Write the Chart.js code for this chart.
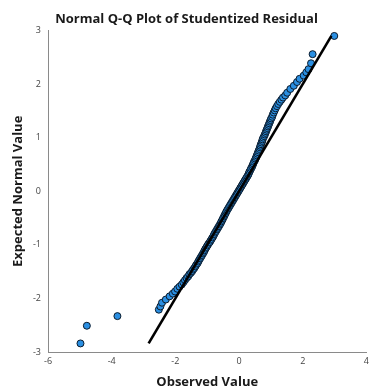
<!DOCTYPE html>
<html>
<head>
<meta charset="utf-8">
<title>Normal Q-Q Plot of Studentized Residual</title>
<script src="https://cdn.jsdelivr.net/npm/chart.js@4.4.1/dist/chart.umd.min.js"></script>
<style>
  html, body { margin: 0; padding: 0; background: #ffffff; }
</style>
</head>
<body>
<canvas id="qq" width="373" height="390"></canvas>
<script>
// Observed studentized residuals (x) and their expected normal values (y)
const observed = [
  -4.98, -4.78, -3.82, -2.52, -2.47, -2.42, -2.30, -2.18, -2.08, -2.01,
  -1.94, -1.87, -1.80, -1.75, -1.70, -1.65, -1.60, -1.56, -1.51, -1.47,
  -1.44, -1.40, -1.37, -1.34, -1.30, -1.28, -1.25, -1.22, -1.19, -1.16,
  -1.13, -1.10, -1.08, -1.05, -1.02, -0.99, -0.96, -0.92, -0.89, -0.86,
  -0.83, -0.80, -0.78, -0.75, -0.72, -0.69, -0.66, -0.63, -0.60, -0.57,
  -0.55, -0.52, -0.50, -0.47, -0.45, -0.42, -0.40, -0.37, -0.34, -0.31,
  -0.28, -0.25, -0.22, -0.19, -0.16, -0.13, -0.10, -0.07, -0.04, -0.01,
   0.02,  0.05,  0.08,  0.11,  0.14,  0.17,  0.20,  0.23,  0.26,  0.29,
   0.31,  0.33,  0.36,  0.38,  0.41,  0.43,  0.45,  0.47,  0.50,  0.52,
   0.54,  0.56,  0.58,  0.60,  0.62,  0.64,  0.66,  0.67,  0.69,  0.71,
   0.73,  0.74,  0.76,  0.79,  0.81,  0.83,  0.85,  0.87,  0.89,  0.91,
   0.93,  0.95,  0.97,  0.99,  1.01,  1.04,  1.06,  1.09,  1.12,  1.15,
   1.19,  1.23,  1.28,  1.33,  1.38,  1.45,  1.51,  1.61,  1.72,  1.82,
   1.90,  2.03,  2.11,  2.18,  2.26,  2.31,  2.99
];
const expected = [
  -2.84, -2.51, -2.33, -2.21, -2.15, -2.08, -2.02, -1.96, -1.91, -1.87,
  -1.82, -1.78, -1.74, -1.70, -1.66, -1.62, -1.59, -1.55, -1.52, -1.49,
  -1.46, -1.43, -1.40, -1.37, -1.34, -1.31, -1.28, -1.25, -1.22, -1.19,
  -1.16, -1.13, -1.10, -1.07, -1.04, -1.01, -0.98, -0.95, -0.92, -0.89,
  -0.86, -0.83, -0.80, -0.77, -0.74, -0.71, -0.68, -0.65, -0.62, -0.59,
  -0.56, -0.53, -0.50, -0.47, -0.44, -0.41, -0.38, -0.35, -0.32, -0.29,
  -0.26, -0.23, -0.20, -0.17, -0.14, -0.11, -0.08, -0.05, -0.02,  0.01,
   0.04,  0.07,  0.10,  0.13,  0.16,  0.19,  0.22,  0.25,  0.28,  0.31,
   0.34,  0.37,  0.40,  0.43,  0.46,  0.49,  0.52,  0.55,  0.58,  0.61,
   0.64,  0.67,  0.70,  0.73,  0.76,  0.79,  0.82,  0.85,  0.88,  0.91,
   0.94,  0.97,  1.00,  1.03,  1.06,  1.09,  1.12,  1.15,  1.18,  1.21,
   1.24,  1.27,  1.30,  1.33,  1.36,  1.39,  1.43,  1.47,  1.51,  1.55,
   1.59,  1.63,  1.67,  1.71,  1.75,  1.79,  1.84,  1.91,  1.97,  2.04,
   2.10,  2.16,  2.22,  2.28,  2.39,  2.56,  2.90
];

// Reference line (expected = observed)
const refLineX = [-2.84, 2.90];
const refLineY = [-2.84, 2.90];

// Tick labels
const xTicks = [-6, -4, -2, 0, 2, 4];
const yTicks = [-3, -2, -1, 0, 1, 2, 3];

const points = observed.map((x, i) => ({ x: x, y: expected[i] }));
const refLine = refLineX.map((x, i) => ({ x: x, y: refLineY[i] }));

const tickFont = { family: 'Open Sans', size: 9 };
const titleFont = { family: 'Open Sans', size: 13, weight: 'bold' };

new Chart(document.getElementById('qq'), {
  type: 'scatter',
  data: {
    datasets: [
      {
        type: 'line',
        data: refLine,
        borderColor: '#000000',
        borderWidth: 2.6,
        pointRadius: 0,
        fill: false,
        order: 0
      },
      {
        data: points,
        backgroundColor: '#2a8fe2',
        borderColor: '#0b1b2c',
        borderWidth: 1,
        pointRadius: 3.5,
        order: 1
      }
    ]
  },
  options: {
    responsive: false,
    animation: false,
    devicePixelRatio: 1,
    layout: { padding: { left: 0, right: 0, top: 0, bottom: 0 } },
    plugins: {
      legend: { display: false },
      tooltip: { enabled: false },
      title: {
        display: true,
        text: 'Normal Q-Q Plot of Studentized Residual',
        color: '#1a1a1a',
        font: titleFont,
        padding: { top: 11, bottom: 4 }
      }
    },
    scales: {
      x: {
        type: 'linear',
        min: -6,
        max: 4,
        afterBuildTicks: s => { s.ticks = xTicks.map(v => ({ value: v })); },
        afterFit: s => { s.height = 38; },
        grid: { display: false, drawTicks: false },
        border: { display: true, color: '#8a8a8a', width: 1 },
        ticks: { font: tickFont, color: '#444444', padding: 4, maxRotation: 0 },
        title: { display: true, text: 'Observed Value', color: '#1a1a1a', font: titleFont, padding: { top: 0, bottom: 0 } }
      },
      y: {
        type: 'linear',
        min: -3,
        max: 3,
        afterBuildTicks: s => { s.ticks = yTicks.map(v => ({ value: v })); },
        afterFit: s => { s.width = 48; },
        grid: { display: false, drawTicks: false },
        border: { display: true, color: '#8a8a8a', width: 1 },
        ticks: { font: tickFont, color: '#444444', padding: 7 },
        title: { display: true, text: 'Expected Normal Value', color: '#1a1a1a', font: titleFont, padding: { top: 10, bottom: 0 } }
      }
    }
  }
});
</script>
</body>
</html>
